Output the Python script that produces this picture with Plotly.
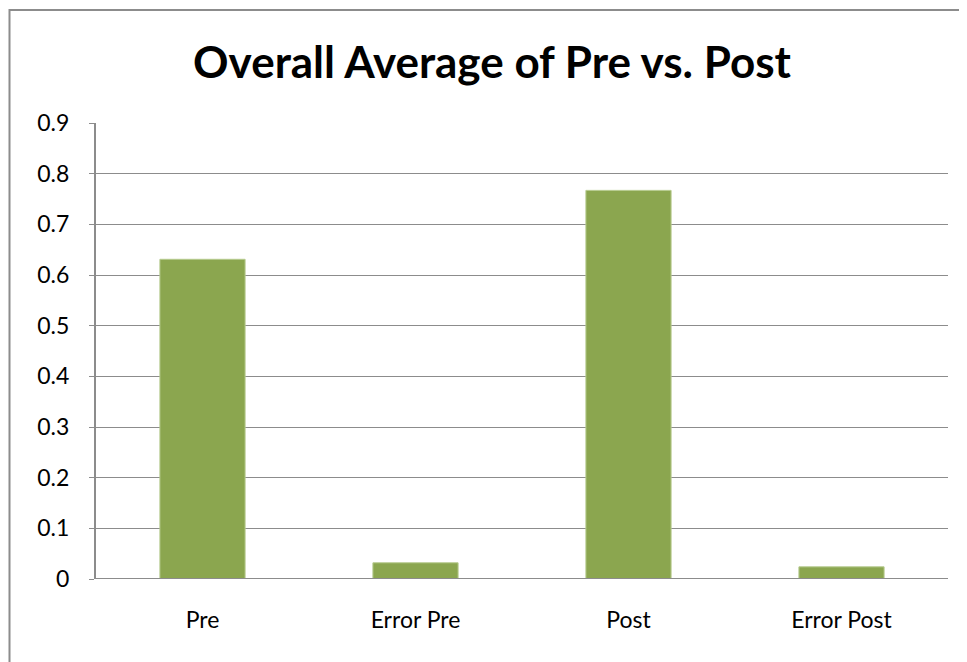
import plotly.graph_objects as go

categories = ["Pre", "Error Pre", "Post", "Error Post"]
values = [0.631, 0.032, 0.767, 0.024]
y_ticks = [0, 0.1, 0.2, 0.3, 0.4, 0.5, 0.6, 0.7, 0.8, 0.9]
y_tick_labels = ["0", "0.1", "0.2", "0.3", "0.4", "0.5", "0.6", "0.7", "0.8", "0.9"]
title_text = "Overall Average of Pre vs. Post"

# page body adds ~8px offset; compensate
OFF = 8
W, H = 967 - OFF, 662 - OFF
L, T = 96 - OFF, 123 - OFF
R = W - (948 - OFF)
B = H - (579 - OFF)
pw, ph = W - L - R, H - T - B

fig = go.Figure(go.Bar(
    x=categories, y=values,
    marker=dict(color="#8BA64F", line=dict(color="#B7CB8F", width=1)),
))

fig.update_layout(
    width=W, height=H,
    margin=dict(l=L, r=R, t=T, b=B),
    paper_bgcolor="white", plot_bgcolor="white",
    bargap=0.6,
    showlegend=False,
    font=dict(family="Lato, Open Sans, sans-serif", color="#000000", size=23),
    title=dict(text="<b>" + title_text + "</b>", x=(492 - OFF) / W, xanchor="center",
               y=1 - (63 - OFF) / H, yanchor="middle",
               font=dict(size=44, family="Lato, Open Sans, sans-serif", color="#000000")),
    xaxis=dict(showgrid=False, showline=False, ticks="", ticklabelstandoff=25,
               tickfont=dict(size=23)),
    yaxis=dict(range=[0, 0.9], tickvals=y_ticks, ticktext=y_tick_labels,
               showgrid=True, gridcolor="#8C8C8C", gridwidth=1,
               showline=True, linecolor="#8C8C8C", linewidth=2,
               ticks="outside", ticklen=5, tickcolor="#8C8C8C",
               ticklabelstandoff=15, zeroline=False, tickfont=dict(size=23)),
    shapes=[
        dict(type="line", xref="paper", yref="y", x0=0, x1=1, y0=0, y1=0,
             line=dict(color="#8C8C8C", width=2)),
        dict(type="rect", xref="paper", yref="paper",
             x0=(1.5 - L) / pw, x1=1 + (R + 20) / pw,
             y0=-(B + 20) / ph, y1=1 + (T - (10 - OFF)) / ph,
             line=dict(color="#8C8C8C", width=2), layer="below"),
    ],
)

fig.write_html("out.html")
